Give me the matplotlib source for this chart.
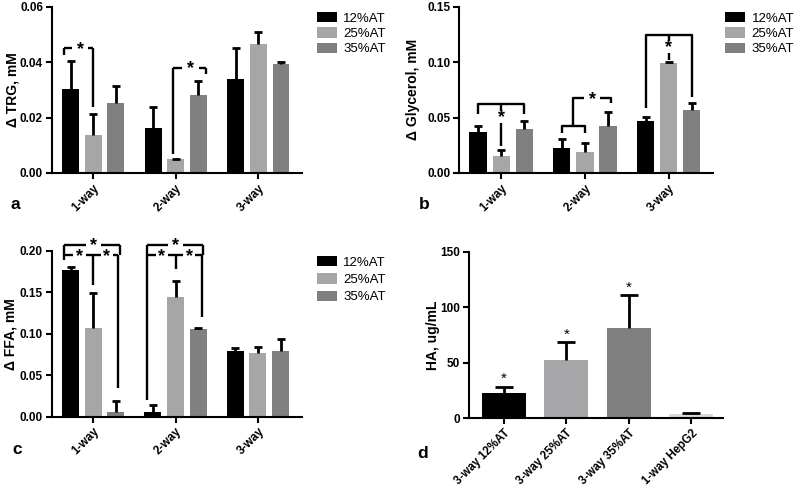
import numpy as np
import matplotlib
matplotlib.use('Agg')
import matplotlib.pyplot as plt
from matplotlib.patches import Patch

plt.rcParams['font.family'] = ['Liberation Sans', 'DejaVu Sans']

groups = ['1-way', '2-way', '3-way']
series = ['12%AT', '25%AT', '35%AT']
colors = ['#000000', '#a6a6a9', '#808080']

# panel a: delta TRG
trg_mean = [[0.0302, 0.0161, 0.0341],
            [0.0137, 0.0051, 0.0467],
            [0.0252, 0.0282, 0.0392]]
trg_err = [[0.0102, 0.0079, 0.0110],
           [0.0076, 0.0, 0.0043],
           [0.0062, 0.0051, 0.0008]]

# panel b: delta glycerol
gly_mean = [[0.0373, 0.0229, 0.0473],
            [0.0157, 0.0187, 0.0991],
            [0.0395, 0.0425, 0.0566]]
gly_err = [[0.0055, 0.0075, 0.0036],
           [0.0051, 0.0087, 0.0015],
           [0.0075, 0.0129, 0.0064]]

# panel c: delta FFA
ffa_mean = [[0.177, 0.006, 0.0797],
            [0.1067, 0.1449, 0.0765],
            [0.006, 0.1059, 0.0785]]
ffa_err = [[0.004, 0.008, 0.003],
           [0.042, 0.0193, 0.008],
           [0.013, 0.0012, 0.0149]]

# panel d: HA
ha_labels = ['3-way 12%AT', '3-way 25%AT', '3-way 35%AT', '1-way HepG2']
ha_mean = [23.1, 52.5, 81.3, 3.6]
ha_err = [5.4, 15.9, 29.7, 1.3]
ha_colors = ['#000000', '#a6a6a9', '#808080', '#dadada']

fig = plt.figure(figsize=(8, 4.9), dpi=100)
axa = fig.add_axes([0.065, 0.647, 0.3125, 0.339])
axb = fig.add_axes([0.574, 0.647, 0.3175, 0.339])
axc = fig.add_axes([0.065, 0.150, 0.312, 0.338])
axd = fig.add_axes([0.586, 0.146, 0.318, 0.340])

tick_font = dict(fontsize=8.5, fontweight='bold')
bw = 0.205
off = 0.275


def style(ax, ylabel, label_x):
    for s in ['top', 'right']:
        ax.spines[s].set_visible(False)
    for s in ['left', 'bottom']:
        ax.spines[s].set_linewidth(1.5)
    ax.tick_params(axis='both', width=1.5, length=4, direction='out', pad=2.5)
    for lab in ax.get_yticklabels():
        lab.set_fontsize(8.5)
        lab.set_fontweight('bold')
    ax.set_ylabel(ylabel, fontsize=10, fontweight='bold', va='center')
    ax.yaxis.set_label_coords(label_x, 0.5)


def up_err(ax, xs, ys, err, capsize):
    # only the upper half of the error bar, like the original figure
    _, caps, _ = ax.errorbar(xs, ys, yerr=[np.zeros(len(xs)), err], fmt='none',
                             ecolor='black', elinewidth=2, capsize=capsize,
                             capthick=2, zorder=3)
    caps[0].set_visible(False)


def grouped(ax, mean, err, ylim, yticks, ylabel, label_x, leg_x, leg_sp):
    x = np.arange(len(groups))
    for i in range(len(series)):
        xs = x + (i - 1) * off
        ax.bar(xs, mean[i], width=bw, color=colors[i], label=series[i], zorder=2)
        up_err(ax, xs, mean[i], err[i], 2.8)
    ax.set_xlim(-0.5, 2.53)
    ax.set_ylim(*ylim)
    ax.set_yticks(yticks)
    ax.set_yticklabels(['%.2f' % v for v in yticks])
    ax.set_xticks(x)
    ax.set_xticklabels(groups, rotation=45, ha='right', va='top',
                       rotation_mode='anchor', **tick_font)
    style(ax, ylabel, label_x)
    handles = [Patch(facecolor=c, label=s) for c, s in zip(colors, series)]
    ax.legend(handles=handles, loc='upper left', bbox_to_anchor=(leg_x, 1.0),
              frameon=False, fontsize=9.5, handlelength=1.5, handleheight=0.8,
              labelspacing=leg_sp, handletextpad=0.5, borderaxespad=0)


def seg(ax, xs, ys):
    ax.plot(xs, ys, color='black', lw=1.7, solid_capstyle='butt',
            clip_on=False, zorder=4)


def star(ax, x, y, size=13):
    ax.text(x, y, '*', ha='center', va='center', fontsize=size,
            fontweight='bold', clip_on=False, zorder=5)


def hbracket(ax, x1, x2, y, d1, d2, sx, gap):
    # vertical legs, horizontal bar broken around the star
    seg(ax, [x1, x1], [d1, y])
    seg(ax, [x2, x2], [d2, y])
    seg(ax, [x1, sx - gap], [y, y])
    seg(ax, [sx + gap, x2], [y, y])


grouped(axa, trg_mean, trg_err, (0, 0.06), [0, 0.02, 0.04, 0.06],
        '\u0394 TRG, mM', -0.156, 1.039, 0.2)
grouped(axb, gly_mean, gly_err, (0, 0.15), [0, 0.05, 0.10, 0.15],
        '\u0394 Glycerol, mM', -0.181, 1.026, 0.2)
grouped(axc, ffa_mean, ffa_err, (0, 0.2), [0, 0.05, 0.10, 0.15, 0.20],
        '\u0394 FFA, mM', -0.166, 1.04, 0.35)

# significance marks, panel a
hbracket(axa, -0.352, 0.0, 0.0451, 0.0427, 0.024, -0.16, 0.1)
star(axa, -0.16, 0.0446)
hbracket(axa, 0.97, 1.37, 0.038, 0.0067, 0.0358, 1.18, 0.1)
star(axa, 1.18, 0.0376)

# panel b
seg(axb, [-0.275, -0.275, 0.275, 0.275], [0.053, 0.062, 0.062, 0.053])
seg(axb, [0, 0], [0.062, 0.056])
seg(axb, [0, 0], [0.045, 0.024])
star(axb, 0, 0.050)
seg(axb, [0.725, 0.725, 1.0, 1.0], [0.0365, 0.0425, 0.0425, 0.0365])
seg(axb, [0.8625, 0.8625, 0.99], [0.0425, 0.0674, 0.0674])
seg(axb, [1.18, 1.31, 1.31], [0.0674, 0.0674, 0.063])
star(axb, 1.085, 0.0664)
seg(axb, [1.725, 1.725, 2.275, 2.275], [0.0584, 0.1247, 0.1247, 0.069])
seg(axb, [2.0, 2.0], [0.1247, 0.119])
seg(axb, [2.0, 2.0], [0.108, 0.102])
star(axb, 2.0, 0.1135)

# panel c
for g, d_left, d_right, d_mid, ro in [(0, 0.189, 0.034, 0.159, 0.323),
                                      (1, 0.020, 0.120, 0.178, 0.336)]:
    xl = g - 0.352
    xr_in = g + ro - 0.02
    xr_out = g + ro
    # outer
    seg(axc, [xl, xl], [d_left, 0.2076])
    seg(axc, [xl, g - 0.09], [0.2076, 0.2076])
    seg(axc, [g + 0.09, xr_out], [0.2076, 0.2076])
    seg(axc, [xr_out, xr_out], [0.2076, 0.195])
    star(axc, g, 0.2066)
    # inner
    seg(axc, [xl, g - 0.24], [0.195, 0.195])
    seg(axc, [g - 0.09, g + 0.09], [0.195, 0.195])
    seg(axc, [g + 0.24, xr_in], [0.195, 0.195])
    seg(axc, [xr_in, xr_in], [0.195, d_right])
    seg(axc, [g, g], [0.195, d_mid])
    star(axc, g - 0.165, 0.1935)
    star(axc, g + 0.165, 0.1935)

# panel d
xd = np.arange(len(ha_labels))
axd.bar(xd, ha_mean, width=0.7, color=ha_colors, zorder=2)
up_err(axd, xd, ha_mean, ha_err, 6.5)
for i in range(3):
    axd.text(xd[i], ha_mean[i] + ha_err[i] + 7, '*', ha='center', va='center',
             fontsize=11)
axd.set_xlim(-0.56, 3.51)
axd.set_ylim(0, 150)
axd.set_yticks([0, 50, 100, 150])
axd.set_xticks(xd)
axd.set_xticklabels(ha_labels, rotation=45, ha='right', va='top',
                    rotation_mode='anchor', fontsize=8.3, fontweight='bold')
style(axd, 'HA, ug/mL', -0.142)

for lab, x, y in [('a', 0.013, 0.582), ('b', 0.524, 0.582),
                  ('c', 0.016, 0.082), ('d', 0.522, 0.075)]:
    fig.text(x, y, lab, fontsize=12.5, fontweight='bold', ha='left', va='center')

fig.savefig('out.png', dpi=100)
